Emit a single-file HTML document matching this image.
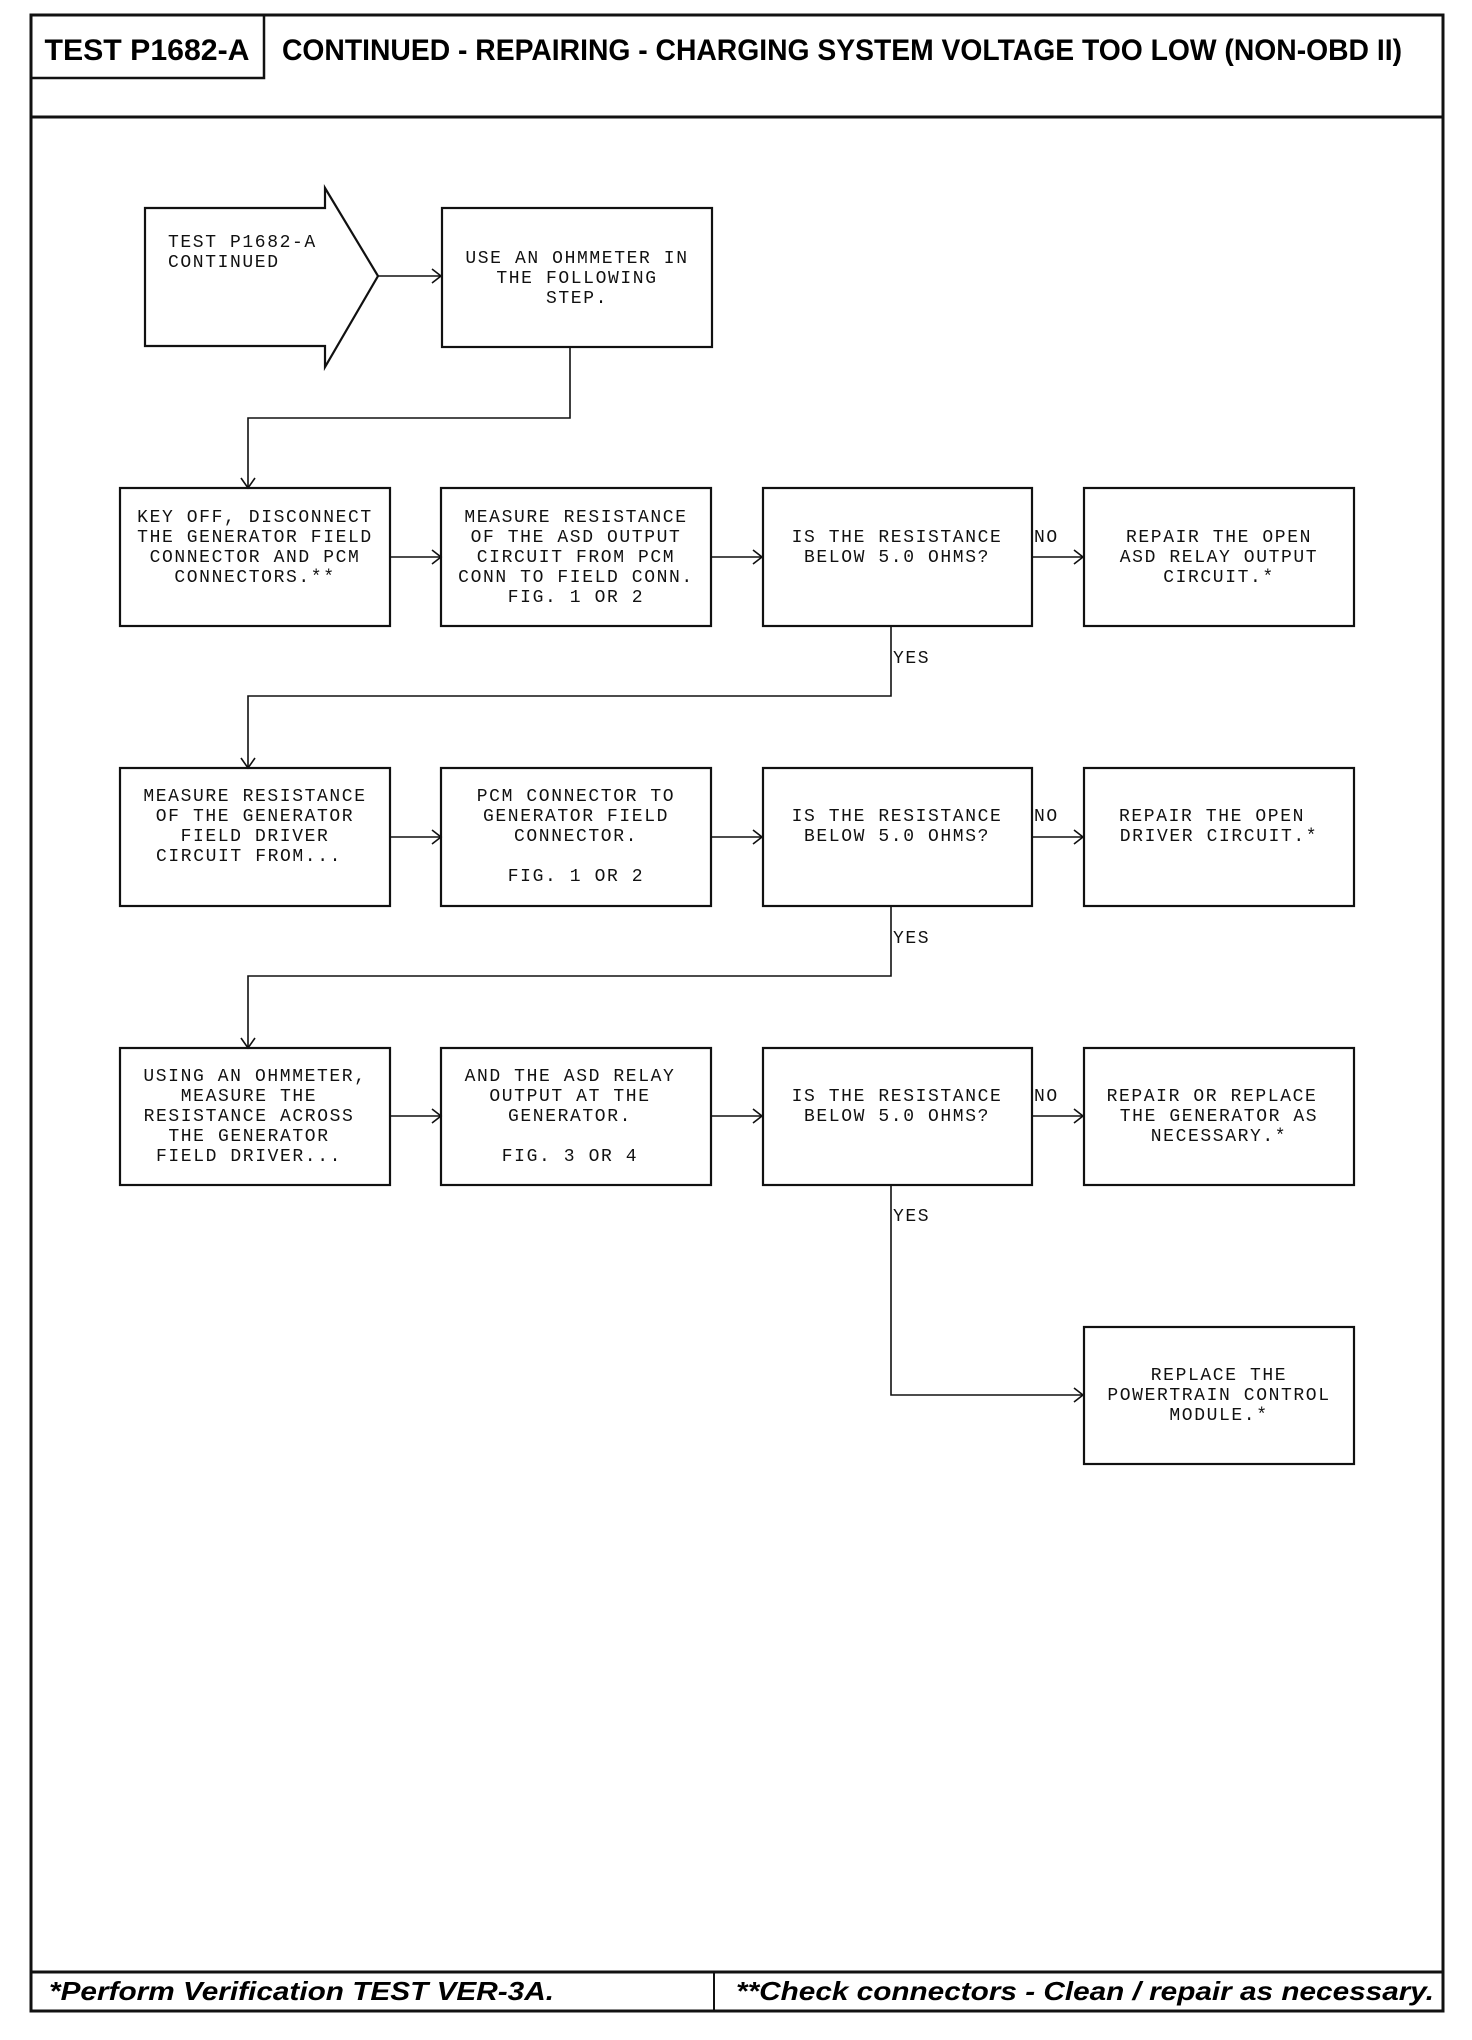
<!DOCTYPE html>
<html><head><meta charset="utf-8"><style>
html,body{margin:0;padding:0;background:#fff;}
svg{display:block;}
.t{font-family:"Liberation Mono",monospace;font-size:18px;letter-spacing:1.6px;fill:#111;text-anchor:middle;dominant-baseline:middle;}
.l{text-anchor:start;}
.b{fill:none;stroke:#111;stroke-width:2.2;}
.c{fill:none;stroke:#111;stroke-width:1.6;}
</style></head><body>
<svg width="1472" height="2040" viewBox="0 0 1472 2040" xmlns="http://www.w3.org/2000/svg">
<!-- frame -->
<rect x="31" y="15" width="1412" height="1996" fill="none" stroke="#111" stroke-width="3"/>
<line x1="31" y1="117" x2="1443" y2="117" stroke="#111" stroke-width="3"/>
<path d="M31 78 H264 V15" fill="none" stroke="#111" stroke-width="2.5"/>
<text x="147" y="60" font-family="Liberation Sans,sans-serif" font-weight="bold" font-size="30" text-anchor="middle" textLength="205" lengthAdjust="spacingAndGlyphs">TEST P1682-A</text>
<text x="282" y="60" font-family="Liberation Sans,sans-serif" font-weight="bold" font-size="30" textLength="1120" lengthAdjust="spacingAndGlyphs">CONTINUED - REPAIRING - CHARGING SYSTEM VOLTAGE TOO LOW (NON-OBD II)</text>
<line x1="31" y1="1972" x2="1443" y2="1972" stroke="#111" stroke-width="3"/>
<line x1="714" y1="1972" x2="714" y2="2011" stroke="#111" stroke-width="2"/>
<text x="49" y="2000" font-family="Liberation Sans,sans-serif" font-weight="bold" font-style="italic" font-size="26" textLength="505" lengthAdjust="spacingAndGlyphs">*Perform Verification TEST VER-3A.</text>
<text x="736" y="2000" font-family="Liberation Sans,sans-serif" font-weight="bold" font-style="italic" font-size="26" textLength="698" lengthAdjust="spacingAndGlyphs">**Check connectors - Clean / repair as necessary.</text>

<!-- start arrow shape -->
<path class="b" d="M145 208 H325 V188 L378 276 L325 367 V346 H145 Z"/>
<text class="t l" x="168" y="242">TEST P1682-A</text>
<text class="t l" x="168" y="262">CONTINUED</text>
<line class="c" x1="378" y1="276" x2="440" y2="276"/><path class="c" d="M432 269 L441 276 L432 283"/>
<rect class="b" x="442" y="208" width="270" height="139"/>
<text class="t" x="577" y="258">USE AN OHMMETER IN</text>
<text class="t" x="577" y="278">THE FOLLOWING</text>
<text class="t" x="577" y="298">STEP.</text>
<path class="c" d="M570 347 V418 H248 V487"/><path class="c" d="M241 478 L248 488 L255 478"/>

<!-- Row 1 -->
<rect class="b" x="120" y="488" width="270" height="138"/>
<rect class="b" x="441" y="488" width="270" height="138"/>
<rect class="b" x="763" y="488" width="269" height="138"/>
<rect class="b" x="1084" y="488" width="270" height="138"/>
<text class="t" x="255" y="517">KEY OFF, DISCONNECT</text>
<text class="t" x="255" y="537">THE GENERATOR FIELD</text>
<text class="t" x="255" y="557">CONNECTOR AND PCM</text>
<text class="t" x="255" y="577">CONNECTORS.**</text>
<text class="t" x="576" y="517">MEASURE RESISTANCE</text>
<text class="t" x="576" y="537">OF THE ASD OUTPUT</text>
<text class="t" x="576" y="557">CIRCUIT FROM PCM</text>
<text class="t" x="576" y="577">CONN TO FIELD CONN.</text>
<text class="t" x="576" y="597">FIG. 1 OR 2</text>
<text class="t" x="897" y="537">IS THE RESISTANCE</text>
<text class="t" x="897" y="557">BELOW 5.0 OHMS?</text>
<text class="t" x="1219" y="537">REPAIR THE OPEN</text>
<text class="t" x="1219" y="557">ASD RELAY OUTPUT</text>
<text class="t" x="1219" y="577">CIRCUIT.*</text>
<text class="t l" x="1034" y="537">NO</text>
<line class="c" x1="390" y1="557" x2="440" y2="557"/><path class="c" d="M432 550 L441 557 L432 564"/>
<line class="c" x1="711" y1="557" x2="762" y2="557"/><path class="c" d="M753 550 L762 557 L753 564"/>
<line class="c" x1="1032" y1="557" x2="1083" y2="557"/><path class="c" d="M1074 550 L1083 557 L1074 564"/>
<path class="c" d="M891 626 V696 H248 V767"/><path class="c" d="M241 758 L248 768 L255 758"/>
<text class="t l" x="893" y="658">YES</text>

<!-- Row 2 -->
<rect class="b" x="120" y="768" width="270" height="138"/>
<rect class="b" x="441" y="768" width="270" height="138"/>
<rect class="b" x="763" y="768" width="269" height="138"/>
<rect class="b" x="1084" y="768" width="270" height="138"/>
<text class="t" x="255" y="796">MEASURE RESISTANCE</text>
<text class="t" x="255" y="816">OF THE GENERATOR</text>
<text class="t" x="255" y="836">FIELD DRIVER</text>
<text class="t" x="249" y="856">CIRCUIT FROM...</text>
<text class="t" x="576" y="796">PCM CONNECTOR TO</text>
<text class="t" x="576" y="816">GENERATOR FIELD</text>
<text class="t" x="576" y="836">CONNECTOR.</text>
<text class="t" x="576" y="876">FIG. 1 OR 2</text>
<text class="t" x="897" y="816">IS THE RESISTANCE</text>
<text class="t" x="897" y="836">BELOW 5.0 OHMS?</text>
<text class="t" x="1212" y="816">REPAIR THE OPEN</text>
<text class="t" x="1219" y="836">DRIVER CIRCUIT.*</text>
<text class="t l" x="1034" y="816">NO</text>
<line class="c" x1="390" y1="837" x2="440" y2="837"/><path class="c" d="M432 830 L441 837 L432 844"/>
<line class="c" x1="711" y1="837" x2="762" y2="837"/><path class="c" d="M753 830 L762 837 L753 844"/>
<line class="c" x1="1032" y1="837" x2="1083" y2="837"/><path class="c" d="M1074 830 L1083 837 L1074 844"/>
<path class="c" d="M891 906 V976 H248 V1047"/><path class="c" d="M241 1038 L248 1048 L255 1038"/>
<text class="t l" x="893" y="938">YES</text>

<!-- Row 3 -->
<rect class="b" x="120" y="1048" width="270" height="137"/>
<rect class="b" x="441" y="1048" width="270" height="137"/>
<rect class="b" x="763" y="1048" width="269" height="137"/>
<rect class="b" x="1084" y="1048" width="270" height="137"/>
<text class="t" x="255" y="1076">USING AN OHMMETER,</text>
<text class="t" x="249" y="1096">MEASURE THE</text>
<text class="t" x="249" y="1116">RESISTANCE ACROSS</text>
<text class="t" x="249" y="1136">THE GENERATOR</text>
<text class="t" x="249" y="1156">FIELD DRIVER...</text>
<text class="t" x="570" y="1076">AND THE ASD RELAY</text>
<text class="t" x="570" y="1096">OUTPUT AT THE</text>
<text class="t" x="570" y="1116">GENERATOR.</text>
<text class="t" x="570" y="1156">FIG. 3 OR 4</text>
<text class="t" x="897" y="1096">IS THE RESISTANCE</text>
<text class="t" x="897" y="1116">BELOW 5.0 OHMS?</text>
<text class="t" x="1212" y="1096">REPAIR OR REPLACE</text>
<text class="t" x="1219" y="1116">THE GENERATOR AS</text>
<text class="t" x="1219" y="1136">NECESSARY.*</text>
<text class="t l" x="1034" y="1096">NO</text>
<line class="c" x1="390" y1="1116" x2="440" y2="1116"/><path class="c" d="M432 1109 L441 1116 L432 1123"/>
<line class="c" x1="711" y1="1116" x2="762" y2="1116"/><path class="c" d="M753 1109 L762 1116 L753 1123"/>
<line class="c" x1="1032" y1="1116" x2="1083" y2="1116"/><path class="c" d="M1074 1109 L1083 1116 L1074 1123"/>
<path class="c" d="M891 1185 V1395 H1083"/><path class="c" d="M1074 1388 L1083 1395 L1074 1402"/>
<text class="t l" x="893" y="1216">YES</text>

<!-- Row 4 -->
<rect class="b" x="1084" y="1327" width="270" height="137"/>
<text class="t" x="1219" y="1375">REPLACE THE</text>
<text class="t" x="1219" y="1395">POWERTRAIN CONTROL</text>
<text class="t" x="1219" y="1415">MODULE.*</text>
</svg>
</body></html>
